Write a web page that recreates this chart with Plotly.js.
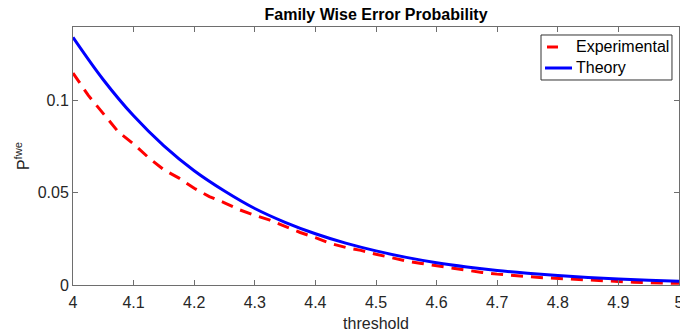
<!DOCTYPE html>
<html>
<head>
<meta charset="utf-8">
<script src="https://cdn.plot.ly/plotly-3.0.1.min.js"></script>
<style>html,body{margin:0;padding:0;background:#fff;}#chart{width:680px;height:332px;}</style>
</head>
<body>
<div id="chart"></div>
<script>
// Experimental curve (threshold, probability)
const expThreshold = [4.000,4.025,4.050,4.075,4.100,4.125,4.150,4.175,4.200,4.225,4.250,4.275,4.300,4.325,4.350,4.375,4.400,4.425,4.450,4.475,4.500,4.525,4.550,4.575,4.600,4.625,4.650,4.675,4.700,4.725,4.750,4.775,4.800,4.825,4.850,4.875,4.900,4.925,4.950,4.975,5.000];
const expValues = [0.115,0.103,0.093,0.083,0.0765,0.069,0.0625,0.058,0.0525,0.048,0.0446,0.0408,0.0378,0.0352,0.0318,0.0285,0.0257,0.0225,0.0204,0.0188,0.0167,0.0148,0.0130,0.0117,0.0104,0.0090,0.0078,0.0068,0.0059,0.0051,0.0046,0.0040,0.0035,0.0032,0.0028,0.0023,0.0019,0.0015,0.0013,0.0011,0.0009];
// Theory curve
const theoryThreshold = [4.00,4.05,4.10,4.15,4.20,4.25,4.30,4.35,4.40,4.45,4.50,4.55,4.60,4.65,4.70,4.75,4.80,4.85,4.90,4.95,5.00];
const theoryValues = [0.1344,0.1114,0.0918,0.0755,0.0620,0.0510,0.0415,0.0340,0.0278,0.0227,0.0185,0.0150,0.0121,0.0098,0.0079,0.0064,0.0051,0.0041,0.0033,0.0026,0.0020];
// Ticks
const xTickVals = [4,4.1,4.2,4.3,4.4,4.5,4.6,4.7,4.8,4.9,5];
const xTickText = ['4','4.1','4.2','4.3','4.4','4.5','4.6','4.7','4.8','4.9','5'];
const yTickVals = [0,0.05,0.1];
const yTickText = ['0','0.05','0.1'];
const seriesNames = ['Experimental','Theory'];
const seriesColors = ['#ff0000','#0000ff'];

const FONT = 'Liberation Sans, Arial, Helvetica, sans-serif';
const AXC = '#6e6e6e';
const TXT = '#262626';

const traces = [
  {x: expThreshold, y: expValues, type: 'scatter', mode: 'lines', name: seriesNames[0],
   line: {color: seriesColors[0], width: 3, dash: '12px,8px'}},
  {x: theoryThreshold, y: theoryValues, type: 'scatter', mode: 'lines', name: seriesNames[1],
   line: {color: seriesColors[1], width: 3, shape: 'spline', smoothing: 1}}
];

// legend box drawn in plot-area (paper) coordinates
const LEG = {x0: 0.7723, x1: 0.9884, y0: 0.7946, y1: 0.969, textX: 0.8267, rowY: [0.9225, 0.8411]};
const shapes = [
  {type: 'rect', xref: 'paper', yref: 'paper', x0: LEG.x0, x1: LEG.x1, y0: LEG.y0, y1: LEG.y1,
   line: {color: '#333', width: 1}, fillcolor: '#fff', layer: 'above'},
  {type: 'line', xref: 'paper', yref: 'paper', x0: 0.7822, x1: 0.8003, y0: LEG.rowY[0], y1: LEG.rowY[0],
   line: {color: seriesColors[0], width: 3}, layer: 'above'},
  {type: 'line', xref: 'paper', yref: 'paper', x0: 0.7789, x1: 0.8234, y0: LEG.rowY[1], y1: LEG.rowY[1],
   line: {color: seriesColors[1], width: 3}, layer: 'above'}
];
const annotations = seriesNames.map((n, i) => ({
  text: n, xref: 'paper', yref: 'paper', x: LEG.textX, y: LEG.rowY[i],
  xanchor: 'left', yanchor: 'middle', showarrow: false,
  font: {family: FONT, size: 16, color: '#000'}
}));

const layout = {
  width: 680, height: 332,
  margin: {l: 73, r: 1, t: 27, b: 47, pad: 0},
  paper_bgcolor: '#fff', plot_bgcolor: '#fff',
  font: {family: FONT, size: 16, color: TXT},
  title: {text: '<b>Family Wise Error Probability</b>', font: {family: FONT, size: 16, color: '#000'},
          x: 0.553, xanchor: 'center', y: 0.958, yanchor: 'middle', yref: 'container'},
  showlegend: false,
  shapes: shapes,
  annotations: annotations,
  xaxis: {range: [4, 5], tickvals: xTickVals, ticktext: xTickText,
          showgrid: false, zeroline: false, showline: true, linecolor: AXC, linewidth: 1,
          mirror: 'ticks', ticks: 'inside', ticklen: 5, tickcolor: AXC, tickwidth: 1,
          ticklabeloverflow: 'allow', ticklabelstandoff: 3,
          tickfont: {family: FONT, size: 16, color: TXT},
          title: {text: 'threshold', font: {family: FONT, size: 16, color: TXT}, standoff: 8}},
  yaxis: {range: [0, 0.14], tickvals: yTickVals, ticktext: yTickText,
          showgrid: false, zeroline: false, showline: true, linecolor: AXC, linewidth: 1,
          mirror: 'ticks', ticks: 'inside', ticklen: 5, tickcolor: AXC, tickwidth: 1,
          tickfont: {family: FONT, size: 16, color: TXT},
          title: {text: 'P<sup>fwe</sup>', font: {family: FONT, size: 16, color: TXT}, standoff: 4}}
};

Plotly.newPlot('chart', traces, layout, {displayModeBar: false, staticPlot: true});
</script>
</body>
</html>
